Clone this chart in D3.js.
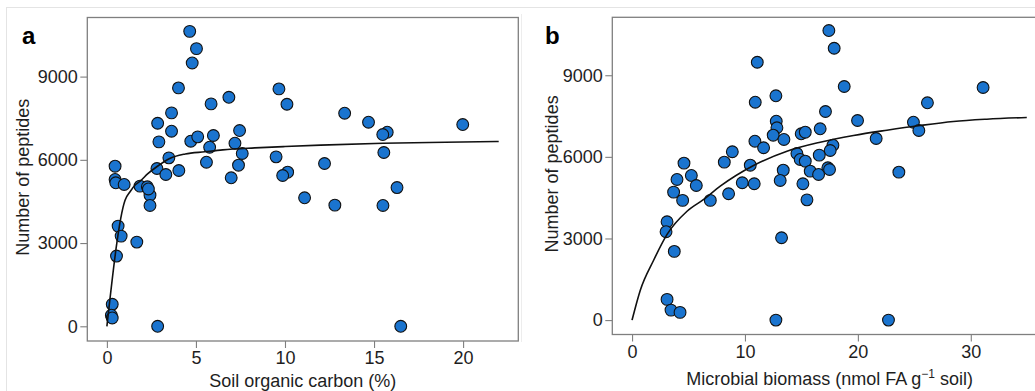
<!DOCTYPE html>
<html>
<head>
<meta charset="utf-8">
<script src="https://cdn.jsdelivr.net/npm/d3@7"></script>
<style>
  html, body { margin: 0; padding: 0; background: #fff; }
  svg { display: block; font-family: "Liberation Sans", Arial, Helvetica, sans-serif; }
</style>
</head>
<body>
<svg id="chart" width="1035" height="391"></svg>
<script>
// ---------- Data ----------
// Panel a: soil organic carbon (%) vs number of peptides
const socA = [4.65, 5.03, 4.79, 4.02, 6.85, 5.85, 3.63, 2.85, 3.63, 7.45,
  2.92, 4.71, 5.10, 5.98, 7.19, 5.77, 7.60, 3.48, 5.59, 7.39,
  2.81, 4.04, 3.31, 6.98, 0.46, 0.46, 0.50, 0.97, 1.86, 2.27,
  2.42, 2.42, 0.63, 0.80, 1.68, 0.54, 0.30, 0.25, 0.30, 2.85,
  9.66, 10.11, 13.35, 14.69, 15.74, 15.49, 19.98, 9.50, 10.15, 9.87,
  12.22, 15.55, 16.29, 11.10, 12.80, 15.50, 16.50, 2.33];
const peptidesA = [10630, 10007, 9492, 8592, 8254, 8016, 7692, 7319, 7031, 7056,
  6648, 6671, 6829, 6876, 6599, 6455, 6228, 6072, 5915, 5807,
  5688, 5616, 5472, 5352, 5771, 5292, 5172, 5112, 5051, 5028,
  4727, 4356, 3611, 3251, 3035, 2531, 792, 400, 300, 0,
  8556, 8003, 7680, 7356, 6996, 6912, 7272, 6108, 5555, 5436,
  5868, 6264, 5000, 4632, 4367, 4356, 0, 4950];
// fitted saturating curve, panel a
const fitAx = [0, 1.02, 1.3, 1.6, 1.9, 2.3, 2.8, 3.5, 4.4, 5.5, 6.5, 8.3, 10, 12, 15.5, 19, 22];
const fitAy = [0, 4546, 4850, 5100, 5250, 5500, 5750, 6040, 6210, 6290, 6360, 6430, 6480, 6530, 6600, 6635, 6660];

// Panel b: microbial biomass vs number of peptides
const biomassB = [17.43, 17.90, 11.09, 18.79, 31.09, 10.91, 12.74, 26.16, 17.13, 12.77,
  12.83, 19.97, 24.92, 25.40, 16.66, 14.98, 15.34, 12.50, 10.88, 13.45,
  11.65, 21.62, 8.88, 17.79, 17.55, 16.58, 14.60, 10.47, 8.17, 4.60,
  14.89, 15.34, 13.39, 15.78, 17.34, 17.49, 16.52, 13.12, 15.13, 23.63,
  9.76, 10.82, 3.98, 5.25, 5.69, 3.68, 8.55, 6.93, 4.48, 15.49,
  3.10, 3.01, 13.24, 3.74, 3.10, 3.45, 4.25, 12.74, 22.71];
const peptidesB = [10643, 9993, 9478, 8586, 8549, 8009, 8244, 7987, 7667, 7311,
  7068, 7337, 7274, 6969, 7031, 6848, 6907, 6797, 6576, 6639,
  6334, 6675, 6187, 6429, 6234, 6063, 6124, 5694, 5805, 5768,
  5904, 5841, 5511, 5474, 5599, 5536, 5353, 5132, 5011, 5437,
  5048, 5011, 5169, 5316, 4948, 4703, 4643, 4400, 4400, 4420,
  3615, 3248, 3027, 2524, 760, 367, 283, 0, 0];
// fitted saturating curve, panel b
const fitBx = [0, 0.73, 1.91, 3.10, 4.87, 6.34, 7.81, 10.76, 13.72, 16.66, 19.61, 22.57, 25.51, 28.46, 31.42, 34.96];
const fitBy = [0, 1100, 2200, 3150, 4000, 4434, 4923, 5683, 6209, 6539, 6786, 6980, 7153, 7300, 7384, 7447];

// Tick values
const yTicks = [0, 3000, 6000, 9000];
const xTicksA = [0, 5, 10, 15, 20];
const xTicksB = [0, 10, 20, 30];

// ---------- Drawing ----------
const svg = d3.select("#chart");
const FILL = "#1a74cf";
const GREY = "#7f7f7f";
const TXT = "#1e1e1e";

// faint outer frame
svg.append("line").attr("x1", 6).attr("x2", 1035).attr("y1", 7.5).attr("y2", 7.5)
  .attr("stroke", "#e4e4e4").attr("stroke-width", 1);
svg.append("line").attr("x1", 6.5).attr("x2", 6.5).attr("y1", 7).attr("y2", 391)
  .attr("stroke", "#e4e4e4").attr("stroke-width", 1);
svg.append("line").attr("x1", 521.5).attr("x2", 521.5).attr("y1", 14).attr("y2", 342)
  .attr("stroke", "#ededed").attr("stroke-width", 1);

function panel(cfg) {
  const { left, right, top, bottom, xDomain, yDomain, xs, ys, fx, fy, xTicks,
          label, labelX, labelY, xPad, yTitleX, xTitleY, xTitle } = cfg;
  const x = d3.scaleLinear().domain(xDomain).range([left, right]);
  const y = d3.scaleLinear().domain(yDomain).range([bottom, top]);
  const g = svg.append("g");

  // panel clip
  const clipId = "clip-" + label;
  svg.append("clipPath").attr("id", clipId).append("rect")
    .attr("x", left).attr("y", top).attr("width", right - left).attr("height", bottom - top);

  // axes
  const ya = g.append("g").attr("transform", `translate(${left},0)`)
    .call(d3.axisLeft(y).tickValues(yTicks).tickSize(7).tickPadding(2.5).tickFormat(d3.format("d")));
  const xa = g.append("g").attr("transform", `translate(0,${bottom})`)
    .call(d3.axisBottom(x).tickValues(xTicks).tickSize(7).tickPadding(xPad).tickFormat(d3.format("d")));
  [ya, xa].forEach(a => {
    a.select(".domain").remove();
    a.selectAll(".tick line").attr("stroke", GREY).attr("stroke-width", 1.1);
    a.selectAll(".tick text").attr("fill", TXT).style("font-size", "18px")
      .style("font-family", '"Liberation Sans", Arial, sans-serif');
  });

  // border
  g.append("rect").attr("x", left).attr("y", top)
    .attr("width", right - left).attr("height", bottom - top)
    .attr("fill", "none").attr("stroke", GREY).attr("stroke-width", 1.3);

  const plot = g.append("g").attr("clip-path", `url(#${clipId})`);
  // points
  plot.selectAll("circle").data(xs.map((v, i) => [v, ys[i]])).join("circle")
    .attr("cx", d => x(d[0])).attr("cy", d => y(d[1])).attr("r", 5.9)
    .attr("fill", FILL).attr("stroke", "#111").attr("stroke-width", 1.1);
  // fitted curve
  const line = d3.line().x(d => x(d[0])).y(d => y(d[1])).curve(d3.curveMonotoneX);
  plot.append("path").datum(fx.map((v, i) => [v, fy[i]]))
    .attr("d", line).attr("fill", "none").attr("stroke", "#111").attr("stroke-width", 1.6);

  // panel letter
  g.append("text").attr("x", labelX).attr("y", labelY).text(label)
    .style("font-size", "24px").style("font-weight", "bold").attr("fill", "#000");

  // y title
  g.append("text")
    .attr("transform", `translate(${yTitleX},${(top + bottom) / 2 - 2}) rotate(-90)`)
    .attr("text-anchor", "middle").attr("fill", TXT).style("font-size", "18px")
    .text("Number of peptides");

  // x title
  const xt = g.append("text").attr("x", (left + right) / 2).attr("y", xTitleY)
    .attr("text-anchor", "middle").attr("fill", TXT).style("font-size", "18px");
  xTitle(xt);
}

panel({
  left: 87.3, right: 518.3, top: 17.5, bottom: 341,
  xDomain: [-1.1, 23.1], yDomain: [-530, 11130],
  xs: socA, ys: peptidesA, fx: fitAx, fy: fitAy, xTicks: xTicksA,
  label: "a", labelX: 22, labelY: 43.5, xPad: 3.5, yTitleX: 29, xTitleY: 386.5,
  xTitle: t => t.text("Soil organic carbon (%)")
});

panel({
  left: 612.3, right: 1047, top: 17.3, bottom: 334.5,
  xDomain: [-1.75, 36.75], yDomain: [-530, 11130],
  xs: biomassB, ys: peptidesB, fx: fitBx, fy: fitBy, xTicks: xTicksB,
  label: "b", labelX: 545, labelY: 43.5, xPad: 4, yTitleX: 558, xTitleY: 385,
  xTitle: t => {
    t.append("tspan").text("Microbial biomass (nmol FA g");
    t.append("tspan").attr("dy", -7).style("font-size", "12px").text("\u22121");
    t.append("tspan").attr("dy", 7).text(" soil)");
  }
});
</script>
</body>
</html>
